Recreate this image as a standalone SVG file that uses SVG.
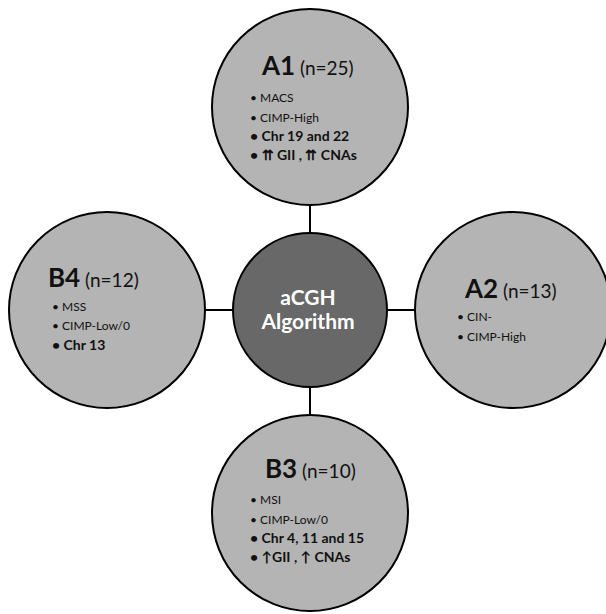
<svg xmlns="http://www.w3.org/2000/svg" width="606" height="614" viewBox="0 0 606 614">
<style>
.outer{fill:#b4b4b4;stroke:#000;stroke-width:2}
.center{fill:#686868;stroke:#000;stroke-width:2}
.conn{stroke:#000;stroke-width:2;fill:none}
text{font-family:Lato,"Liberation Sans",sans-serif;fill:#111}
.big{font-weight:bold;font-size:26px}
.n{font-size:19px}
.r{font-size:12px}
.b{font-size:14px;font-weight:bold}
.ctr{font-size:21px;font-weight:bold;fill:#fff;text-anchor:middle}
</style>
<rect width="606" height="614" fill="#fff"/>
<g id="connectors">
<line class="conn" x1="310" y1="205" x2="310" y2="233"/>
<line class="conn" x1="310" y1="387" x2="310" y2="415"/>
<line class="conn" x1="205" y1="310" x2="233" y2="310"/>
<line class="conn" x1="387" y1="310" x2="415" y2="310"/>
</g>
<g id="center">
<circle class="center" cx="310" cy="310" r="77"/>
<text class="ctr" x="308" y="305">aCGH</text>
<text class="ctr" x="308" y="329">Algorithm</text>
</g>
<g id="A1">
<circle class="outer" cx="310" cy="107" r="98"/>
<text x="262" y="75"><tspan class="big">A1</tspan><tspan class="n"> (n=25)</tspan></text>
<text class="r" x="250" y="102">• MACS</text>
<text class="r" x="250" y="122">• CIMP-High</text>
<text class="b" x="250" y="141">• Chr 19 and 22</text>
<text class="b" x="250" y="160">• ⇈ GII , ⇈ CNAs</text>
</g>
<g id="A2">
<circle class="outer" cx="513" cy="310" r="98"/>
<text x="465" y="298"><tspan class="big">A2</tspan><tspan class="n"> (n=13)</tspan></text>
<text class="r" x="457" y="321">• CIN-</text>
<text class="r" x="457" y="341">• CIMP-High</text>
</g>
<g id="B3">
<circle class="outer" cx="310" cy="513" r="98"/>
<text x="265" y="478"><tspan class="big">B3</tspan><tspan class="n"> (n=10)</tspan></text>
<text class="r" x="250" y="504">• MSI</text>
<text class="r" x="250" y="524">• CIMP-Low/0</text>
<text class="b" x="250" y="543">• Chr 4, 11 and 15</text>
<text class="b" x="250" y="562">• ↑GII , ↑ CNAs</text>
</g>
<g id="B4">
<circle class="outer" cx="107" cy="310" r="98"/>
<text x="48" y="287"><tspan class="big">B4</tspan><tspan class="n"> (n=12)</tspan></text>
<text class="r" x="52" y="311">• MSS</text>
<text class="r" x="52" y="330">• CIMP-Low/0</text>
<text class="b" x="52" y="350">• Chr 13</text>
</g>
</svg>
